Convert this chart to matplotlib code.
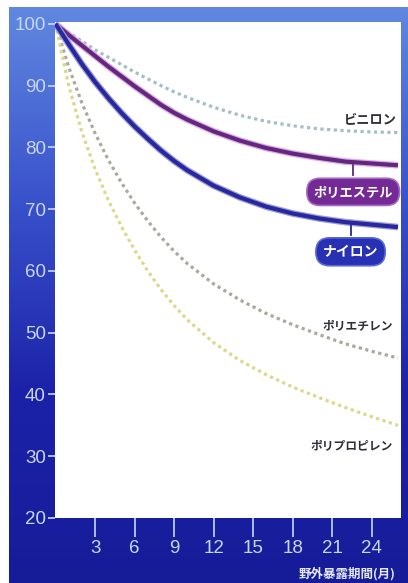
import numpy as np
import matplotlib
matplotlib.use("Agg")
import matplotlib.pyplot as plt
from matplotlib.colors import LinearSegmentedColormap

JP = ['Noto Sans CJK JP', 'DejaVu Sans']
NUM = ['Liberation Sans', 'DejaVu Sans']

months = [0, 1, 2, 3, 4, 5, 6, 7, 8, 9, 10, 12, 14, 16, 18, 20, 22, 24, 26]
vinylon = [100, 98.6, 97.2, 95.8, 94.6, 93.4, 92.2, 91.1, 90.0, 89.0, 88.1, 86.5, 85.2, 84.2, 83.5, 83.0, 82.7, 82.5, 82.4]
polyester = [100, 98.2, 96.5, 94.8, 93.1, 91.5, 89.9, 88.4, 86.9, 85.6, 84.5, 82.6, 81.1, 79.9, 79.0, 78.3, 77.7, 77.4, 77.1]
nylon = [100, 96.7, 93.5, 90.6, 88.0, 85.6, 83.4, 81.4, 79.5, 77.8, 76.3, 73.8, 71.9, 70.4, 69.3, 68.5, 67.9, 67.5, 67.1]
polyethylene = [100, 93.0, 87.2, 82.3, 78.0, 74.3, 71.0, 68.1, 65.5, 63.2, 61.2, 57.9, 55.3, 53.1, 51.3, 49.7, 48.2, 47.0, 45.9]
polypropylene = [100, 90.0, 82.5, 76.5, 71.5, 67.2, 63.4, 60.0, 57.0, 54.4, 52.1, 48.4, 45.5, 43.2, 41.2, 39.5, 37.9, 36.4, 35.0]

x_ticks = [3, 6, 9, 12, 15, 18, 21, 24]
y_ticks = [20, 30, 40, 50, 60, 70, 80, 90, 100]
x_label = "野外暴露期間(月)"

W, H = 408, 583
fig = plt.figure(figsize=(W / 100, H / 100), dpi=100)
fig.patch.set_facecolor("white")

# gradient background
bg = fig.add_axes([9 / W, 0, (W - 9) / W, (H - 7) / H])
bg.set_axis_off()
cmap = LinearSegmentedColormap.from_list("bg", ["#6088e0", "#3a52cc", "#1c22a8", "#161c98"])
grad = np.linspace(0, 1, 256).reshape(-1, 1)
bg.imshow(grad, aspect="auto", cmap=cmap, extent=[0, 1, 0, 1], origin="upper")
bg.set_xlim(0, 1)
bg.set_ylim(0, 1)

ax = fig.add_axes([55 / W, 1 - 518 / H, (401 - 55) / W, (518 - 22) / H])
ax.set_facecolor("white")
ax.set_xlim(-0.04, 26.23)
ax.set_ylim(20, 100.3)
for s in ax.spines.values():
    s.set_visible(False)

tick_col = "#c8d6f8"
ax.set_xticks(x_ticks)
ax.set_xticklabels([str(v) for v in x_ticks])
ax.set_yticks(y_ticks)
ax.set_yticklabels([str(v) for v in y_ticks])
ax.tick_params(axis="x", length=14, width=1.2, color=tick_col, pad=1.5,
               labelsize=13.5, labelcolor=tick_col)
ax.tick_params(axis="y", length=5, width=1.2, color=tick_col, pad=1.5,
               labelsize=13.5, labelcolor=tick_col)
for lab in ax.get_xticklabels() + ax.get_yticklabels():
    lab.set_family(NUM)

# dotted series (small square dots)
dot = (0, (1.0, 1.1))
ax.plot(months, vinylon, color="#a4bec6", lw=2.3, linestyle=dot, dash_capstyle="butt")
ax.plot(months, polyethylene, color="#a8aa9c", lw=2.3, linestyle=dot, dash_capstyle="butt")
ax.plot(months, polypropylene, color="#e0d68a", lw=2.3, linestyle=dot, dash_capstyle="butt")

# solid series with soft halo
ax.plot(months, polyester, color="#e0a8ec", lw=4.8, solid_capstyle="butt")
ax.plot(months, polyester, color="#62287e", lw=3.0, solid_capstyle="butt")
ax.plot(months, nylon, color="#9a9ae6", lw=4.8, solid_capstyle="butt")
ax.plot(months, nylon, color="#28289a", lw=3.0, solid_capstyle="butt")

# labels
txt_col = "#2e2e3a"
ax.text(25.9, 84.6, "ビニロン", ha="right", va="center", fontsize=9.5,
        color=txt_col, fontweight="bold", family=JP)
ax.text(25.6, 51.1, "ポリエチレン", ha="right", va="center", fontsize=8.5,
        color=txt_col, fontweight="bold", family=JP)
ax.text(25.6, 31.7, "ポリプロピレン", ha="right", va="center", fontsize=8.5,
        color=txt_col, fontweight="bold", family=JP)

# boxed labels with connectors
ax.plot([22.6, 22.6], [polyester[16] - 0.3, 75.5], color="#62287e", lw=1.3)
ax.text(22.6, 72.8, "ポリエステル", ha="center", va="center", fontsize=9.5,
        color="white", fontweight="bold", family=JP,
        bbox=dict(boxstyle="round,pad=0.5,rounding_size=1.0",
                  fc="#742a94", ec="#a868c8", lw=1.2))
ax.plot([22.4, 22.4], [nylon[16] - 0.3, 65.8], color="#28289a", lw=1.3)
ax.text(22.4, 63.1, "ナイロン", ha="center", va="center", fontsize=10,
        color="white", fontweight="bold", family=JP,
        bbox=dict(boxstyle="round,pad=0.5,rounding_size=1.0",
                  fc="#2830b4", ec="#5868d8", lw=1.2))

fig.text(299 / W, 1 - 574 / H, x_label, ha="left", va="center", fontsize=9,
         color="#e4e8fa", fontweight="bold", family=JP)

fig.savefig("out.png", dpi=100)
